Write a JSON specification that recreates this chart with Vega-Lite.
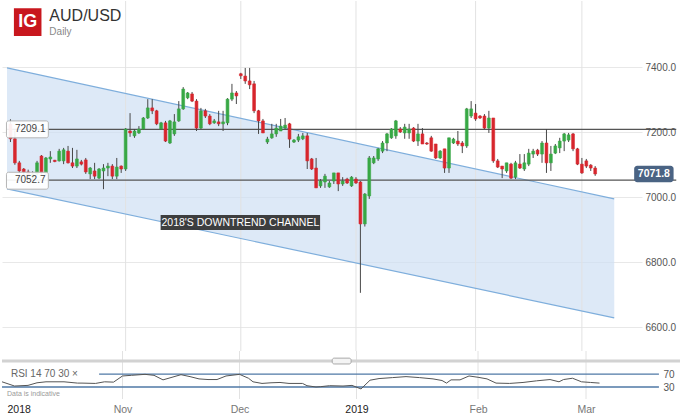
{
  "$schema": "https://vega.github.io/schema/vega-lite/v6.json",
  "padding": 0,
  "spacing": 0,
  "bounds": "flush",
  "background": "white",
  "config": {"view": {"stroke": null}, "font": "Liberation Sans", "axis": {"labelFont": "Liberation Sans"}},
  "datasets": {
    "candles": [
      {"n":0,"o":7225,"h":7240,"l":7170,"c":7180},{"n":1,"o":7180,"h":7205,"l":7100,"c":7106},{"n":2,"o":7106,"h":7112,"l":7075,"c":7081},{"n":3,"o":7087,"h":7090,"l":7062,"c":7078},{"n":4,"o":7078,"h":7085,"l":7050,"c":7062},{"n":5,"o":7062,"h":7080,"l":7048,"c":7072},{"n":6,"o":7072,"h":7112,"l":7068,"c":7106},{"n":7,"o":7127,"h":7130,"l":7070,"c":7075},{"n":8,"o":7075,"h":7124,"l":7068,"c":7121},{"n":9,"o":7118,"h":7142,"l":7106,"c":7124},
      {"n":10,"o":7114,"h":7115,"l":7108,"c":7110},{"n":11,"o":7112,"h":7149,"l":7110,"c":7142},{"n":12,"o":7112,"h":7152,"l":7102,"c":7146},{"n":13,"o":7142,"h":7158,"l":7104,"c":7106},{"n":14,"o":7106,"h":7152,"l":7090,"c":7096},{"n":15,"o":7096,"h":7146,"l":7090,"c":7118},{"n":16,"o":7109,"h":7115,"l":7098,"c":7102},{"n":17,"o":7115,"h":7121,"l":7072,"c":7078},{"n":18,"o":7072,"h":7093,"l":7056,"c":7090},{"n":19,"o":7081,"h":7106,"l":7056,"c":7065},
      {"n":20,"o":7059,"h":7090,"l":7056,"c":7087},{"n":21,"o":7081,"h":7102,"l":7025,"c":7090},{"n":22,"o":7090,"h":7106,"l":7065,"c":7096},{"n":23,"o":7096,"h":7102,"l":7056,"c":7065},{"n":24,"o":7065,"h":7121,"l":7056,"c":7093},{"n":25,"o":7096,"h":7098,"l":7075,"c":7087},{"n":26,"o":7087,"h":7213,"l":7081,"c":7210},{"n":27,"o":7204,"h":7259,"l":7186,"c":7198},{"n":28,"o":7189,"h":7210,"l":7183,"c":7204},{"n":29,"o":7198,"h":7219,"l":7195,"c":7210},
      {"n":30,"o":7210,"h":7247,"l":7207,"c":7244},{"n":31,"o":7244,"h":7302,"l":7241,"c":7275},{"n":32,"o":7275,"h":7302,"l":7256,"c":7266},{"n":33,"o":7266,"h":7269,"l":7222,"c":7226},{"n":34,"o":7210,"h":7232,"l":7207,"c":7229},{"n":35,"o":7229,"h":7235,"l":7170,"c":7173},{"n":36,"o":7167,"h":7238,"l":7164,"c":7235},{"n":37,"o":7195,"h":7256,"l":7189,"c":7232},{"n":38,"o":7235,"h":7296,"l":7232,"c":7272},{"n":39,"o":7272,"h":7339,"l":7269,"c":7333},
      {"n":40,"o":7306,"h":7324,"l":7302,"c":7321},{"n":41,"o":7318,"h":7324,"l":7293,"c":7296},{"n":42,"o":7296,"h":7302,"l":7204,"c":7213},{"n":43,"o":7213,"h":7275,"l":7210,"c":7266},{"n":44,"o":7266,"h":7272,"l":7244,"c":7250},{"n":45,"o":7250,"h":7256,"l":7222,"c":7226},{"n":46,"o":7229,"h":7241,"l":7226,"c":7235},{"n":47,"o":7232,"h":7266,"l":7219,"c":7226},{"n":48,"o":7226,"h":7266,"l":7204,"c":7232},{"n":49,"o":7229,"h":7305,"l":7222,"c":7302},
      {"n":50,"o":7302,"h":7349,"l":7296,"c":7321},{"n":51,"o":7321,"h":7327,"l":7287,"c":7312},{"n":52,"o":7380,"h":7383,"l":7364,"c":7374},{"n":53,"o":7373,"h":7398,"l":7349,"c":7358},{"n":54,"o":7358,"h":7398,"l":7333,"c":7346},{"n":55,"o":7349,"h":7358,"l":7259,"c":7266},{"n":56,"o":7266,"h":7269,"l":7195,"c":7235},{"n":57,"o":7235,"h":7241,"l":7198,"c":7198},{"n":58,"o":7170,"h":7186,"l":7164,"c":7179},{"n":59,"o":7183,"h":7226,"l":7180,"c":7195},
      {"n":60,"o":7195,"h":7226,"l":7186,"c":7213},{"n":61,"o":7204,"h":7241,"l":7204,"c":7219},{"n":62,"o":7213,"h":7244,"l":7210,"c":7222},{"n":63,"o":7226,"h":7229,"l":7152,"c":7179},{"n":64,"o":7170,"h":7179,"l":7167,"c":7176},{"n":65,"o":7176,"h":7195,"l":7170,"c":7186},{"n":66,"o":7180,"h":7198,"l":7176,"c":7189},{"n":67,"o":7189,"h":7198,"l":7087,"c":7112},{"n":68,"o":7118,"h":7121,"l":7084,"c":7087},{"n":69,"o":7090,"h":7121,"l":7029,"c":7029},
      {"n":70,"o":7035,"h":7056,"l":7029,"c":7050},{"n":71,"o":7047,"h":7072,"l":7029,"c":7065},{"n":72,"o":7032,"h":7050,"l":7029,"c":7044},{"n":73,"o":7050,"h":7075,"l":7041,"c":7075},{"n":74,"o":7075,"h":7075,"l":7019,"c":7041},{"n":75,"o":7041,"h":7062,"l":7035,"c":7050},{"n":76,"o":7056,"h":7060,"l":7041,"c":7044},{"n":77,"o":7035,"h":7065,"l":7032,"c":7062},{"n":78,"o":7056,"h":7062,"l":7041,"c":7044},{"n":79,"o":7047,"h":7050,"l":6706,"c":6918},
      {"n":80,"o":6918,"h":7013,"l":6910,"c":7010},{"n":81,"o":7004,"h":7127,"l":6995,"c":7121},{"n":82,"o":7106,"h":7127,"l":7102,"c":7121},{"n":83,"o":7118,"h":7152,"l":7112,"c":7149},{"n":84,"o":7142,"h":7173,"l":7136,"c":7167},{"n":85,"o":7167,"h":7198,"l":7142,"c":7195},{"n":86,"o":7183,"h":7213,"l":7180,"c":7210},{"n":87,"o":7189,"h":7238,"l":7180,"c":7235},{"n":88,"o":7210,"h":7216,"l":7198,"c":7201},{"n":89,"o":7198,"h":7226,"l":7180,"c":7216},
      {"n":90,"o":7198,"h":7226,"l":7180,"c":7210},{"n":91,"o":7213,"h":7216,"l":7170,"c":7173},{"n":92,"o":7173,"h":7226,"l":7158,"c":7195},{"n":93,"o":7195,"h":7213,"l":7164,"c":7164},{"n":94,"o":7167,"h":7170,"l":7161,"c":7164},{"n":95,"o":7183,"h":7189,"l":7140,"c":7142},{"n":96,"o":7164,"h":7164,"l":7118,"c":7121},{"n":97,"o":7121,"h":7145,"l":7118,"c":7142},{"n":98,"o":7149,"h":7149,"l":7075,"c":7090},{"n":99,"o":7090,"h":7183,"l":7075,"c":7183},
      {"n":100,"o":7167,"h":7183,"l":7164,"c":7179},{"n":101,"o":7173,"h":7204,"l":7158,"c":7164},{"n":102,"o":7167,"h":7173,"l":7136,"c":7158},{"n":103,"o":7158,"h":7275,"l":7152,"c":7272},{"n":104,"o":7250,"h":7296,"l":7244,"c":7272},{"n":105,"o":7259,"h":7287,"l":7235,"c":7241},{"n":106,"o":7250,"h":7253,"l":7241,"c":7244},{"n":107,"o":7250,"h":7256,"l":7210,"c":7213},{"n":108,"o":7213,"h":7266,"l":7198,"c":7244},{"n":109,"o":7244,"h":7244,"l":7106,"c":7112},
      {"n":110,"o":7112,"h":7118,"l":7090,"c":7093},{"n":111,"o":7096,"h":7096,"l":7059,"c":7087},{"n":112,"o":7081,"h":7106,"l":7075,"c":7106},{"n":113,"o":7102,"h":7106,"l":7056,"c":7059},{"n":114,"o":7062,"h":7112,"l":7056,"c":7106},{"n":115,"o":7102,"h":7133,"l":7087,"c":7090},{"n":116,"o":7087,"h":7133,"l":7081,"c":7106},{"n":117,"o":7102,"h":7149,"l":7096,"c":7136},{"n":118,"o":7133,"h":7149,"l":7121,"c":7142},{"n":119,"o":7145,"h":7149,"l":7127,"c":7133},
      {"n":120,"o":7133,"h":7173,"l":7106,"c":7167},{"n":121,"o":7167,"h":7210,"l":7075,"c":7106},{"n":122,"o":7106,"h":7158,"l":7081,"c":7133},{"n":123,"o":7136,"h":7164,"l":7133,"c":7158},{"n":124,"o":7152,"h":7183,"l":7136,"c":7173},{"n":125,"o":7173,"h":7198,"l":7142,"c":7195},{"n":126,"o":7176,"h":7198,"l":7170,"c":7192},{"n":127,"o":7195,"h":7198,"l":7142,"c":7149},{"n":128,"o":7149,"h":7152,"l":7099,"c":7102},{"n":129,"o":7102,"h":7121,"l":7072,"c":7075},
      {"n":130,"o":7112,"h":7118,"l":7090,"c":7096},{"n":131,"o":7099,"h":7102,"l":7081,"c":7090},{"n":132,"o":7090,"h":7096,"l":7066,"c":7071.8}
    ],
    "rsi": [
      {"n":-0.78,"rsi":46},{"n":2,"rsi":33},{"n":5,"rsi":35},{"n":7,"rsi":43},{"n":9,"rsi":46},{"n":13,"rsi":46},{"n":16,"rsi":42},{"n":17,"rsi":42},{"n":20,"rsi":41},{"n":22,"rsi":46},{"n":24,"rsi":45},{"n":26,"rsi":64},{"n":28,"rsi":66},{"n":31,"rsi":69},{"n":33,"rsi":66},{"n":35,"rsi":52},{"n":37,"rsi":60},{"n":39,"rsi":68},{"n":41,"rsi":62},{"n":43,"rsi":55},{"n":45,"rsi":53},{"n":47,"rsi":53},{"n":49,"rsi":64},{"n":52,"rsi":69},{"n":54,"rsi":57},{"n":55,"rsi":46},{"n":57,"rsi":41},{"n":59,"rsi":43},{"n":61,"rsi":44},{"n":63,"rsi":41},{"n":66,"rsi":41},{"n":67,"rsi":34},{"n":69,"rsi":30},{"n":70,"rsi":31},{"n":72,"rsi":34},{"n":75,"rsi":33},{"n":77,"rsi":35},{"n":79,"rsi":24},{"n":81,"rsi":51},{"n":83,"rsi":56},{"n":86,"rsi":59},{"n":89,"rsi":62},{"n":92,"rsi":59},{"n":95,"rsi":55},{"n":97,"rsi":50},{"n":98,"rsi":42},{"n":99,"rsi":52},{"n":101,"rsi":52},{"n":103,"rsi":64},{"n":105,"rsi":60},{"n":107,"rsi":55},{"n":109,"rsi":42},{"n":112,"rsi":41},{"n":115,"rsi":44},{"n":118,"rsi":49},{"n":121,"rsi":53},{"n":123,"rsi":46},{"n":124,"rsi":53},{"n":126,"rsi":57},{"n":128,"rsi":46},{"n":130,"rsi":44},{"n":132,"rsi":42}
    ],
    "channel": [{"n":-0.78,"upper":7398,"lower":7026},{"n":136.3,"upper":6995,"lower":6629}],
    "months": [{"n":26},{"n":52},{"n":78},{"n":105},{"n":129}],
    "levels": [{"price":7209.1,"label":"7209.1"},{"price":7052.7,"label":"7052.7"}],
    "last": [{"price":7071.8,"label":"7071.8"}],
    "notes": [{"text":"2018'S DOWNTREND CHANNEL"}],
    "titles": [{"pair":"AUD/USD","period":"Daily","logo":"IG"}],
    "rsiInfo": [{"label":"RSI  14  70  30  ×","note":"Data is indicative"}]
  },
  "vconcat": [
    {
      "width": 640,
      "height": 350,
      "layer": [
        {
          "data": {"name": "channel"},
          "mark": {"type": "area", "color": "#cfe0f3", "opacity": 0.7},
          "encoding": {
            "x": {"field": "n", "type": "quantitative", "scale": {"domain": [-0.78, 141.44], "nice": false, "zero": false}, "axis": null},
            "y": {"field": "upper", "type": "quantitative", "scale": {"domain": [6527, 7604], "nice": false, "zero": false},
                  "axis": {"orient": "right", "values": [6600, 6800, 7000, 7200, 7400], "format": ".1f", "title": null, "domain": false, "ticks": false, "labelPadding": 3, "labelFontSize": 10, "labelColor": "#555", "gridColor": "#e8e8e8", "grid": true}},
            "y2": {"field": "lower"}
          }
        },
        {
          "data": {"name": "months"},
          "mark": {"type": "rule", "color": "#e2e2e2", "strokeWidth": 1},
          "encoding": {"x": {"field": "n", "type": "quantitative", "axis": null}}
        },
        {
          "data": {"name": "channel"},
          "mark": {"type": "line", "color": "#7eaedc", "strokeWidth": 1.2},
          "encoding": {"x": {"field": "n", "type": "quantitative", "axis": null}, "y": {"field": "upper", "type": "quantitative"}}
        },
        {
          "data": {"name": "channel"},
          "mark": {"type": "line", "color": "#7eaedc", "strokeWidth": 1.2},
          "encoding": {"x": {"field": "n", "type": "quantitative", "axis": null}, "y": {"field": "lower", "type": "quantitative"}}
        },
        {
          "data": {"name": "levels"},
          "mark": {"type": "rule", "color": "#555", "strokeWidth": 1.4, "clip": false},
          "encoding": {
            "x": {"datum": -0.78, "type": "quantitative", "axis": null},
            "x2": {"datum": 150.3},
            "y": {"field": "price", "type": "quantitative"}
          }
        },
        {
          "data": {"name": "candles"},
          "mark": {"type": "rule", "color": "#474747", "strokeWidth": 1},
          "encoding": {
            "x": {"field": "n", "type": "quantitative", "axis": null},
            "y": {"field": "l", "type": "quantitative"},
            "y2": {"field": "h"}
          }
        },
        {
          "data": {"name": "candles"},
          "mark": {"type": "bar", "size": 2.8, "strokeWidth": 0.6},
          "encoding": {
            "x": {"field": "n", "type": "quantitative", "axis": null},
            "y": {"field": "o", "type": "quantitative"},
            "y2": {"field": "c"},
            "fill": {"condition": {"test": "datum.c >= datum.o", "value": "#38a845"}, "value": "#d7262d"},
            "stroke": {"condition": {"test": "datum.c >= datum.o", "value": "#38a845"}, "value": "#d7262d"}
          }
        },
        {
          "data": {"name": "levels"},
          "transform": [{"filter": "datum.price > 7100"}],
          "mark": {"type": "rect", "fill": "white", "fillOpacity": 0.92, "stroke": "#b5b5b5", "strokeWidth": 1, "cornerRadius": 2},
          "encoding": {
            "x": {"datum": -0.9, "type": "quantitative", "axis": null},
            "x2": {"datum": 8.55},
            "y": {"datum": 7235, "type": "quantitative"},
            "y2": {"datum": 7183}
          }
        },
        {
          "data": {"name": "levels"},
          "transform": [{"filter": "datum.price < 7100"}],
          "mark": {"type": "rect", "fill": "white", "fillOpacity": 0.92, "stroke": "#b5b5b5", "strokeWidth": 1, "cornerRadius": 2},
          "encoding": {
            "x": {"datum": -0.9, "type": "quantitative", "axis": null},
            "x2": {"datum": 8.55},
            "y": {"datum": 7077, "type": "quantitative"},
            "y2": {"datum": 7025}
          }
        },
        {
          "data": {"name": "levels"},
          "mark": {"type": "text", "align": "left", "baseline": "middle", "fontSize": 10, "color": "#444"},
          "encoding": {
            "x": {"datum": 1.0, "type": "quantitative", "axis": null},
            "y": {"field": "price", "type": "quantitative"},
            "text": {"field": "label"}
          }
        },
        {
          "data": {"name": "last"},
          "mark": {"type": "rect", "fill": "#4a6383", "cornerRadius": 3, "clip": false},
          "encoding": {
            "x": {"datum": 140.8, "type": "quantitative", "axis": null},
            "x2": {"datum": 149.7},
            "y": {"datum": 7097, "type": "quantitative"},
            "y2": {"datum": 7046}
          }
        },
        {
          "data": {"name": "last"},
          "mark": {"type": "text", "align": "center", "baseline": "middle", "fontSize": 10.5, "fontWeight": "bold", "color": "white", "clip": false},
          "encoding": {
            "x": {"datum": 145.25, "type": "quantitative", "axis": null},
            "y": {"field": "price", "type": "quantitative"},
            "text": {"field": "label"}
          }
        },
        {
          "data": {"name": "notes"},
          "mark": {"type": "rect", "fill": "#2f2f2f", "opacity": 0.92},
          "encoding": {
            "x": {"datum": 33.9, "type": "quantitative", "axis": null},
            "x2": {"datum": 69.9},
            "y": {"datum": 6945.5, "type": "quantitative"},
            "y2": {"datum": 6899.4}
          }
        },
        {
          "data": {"name": "notes"},
          "mark": {"type": "text", "align": "center", "baseline": "middle", "fontSize": 10.5, "color": "white"},
          "encoding": {
            "x": {"datum": 51.9, "type": "quantitative", "axis": null},
            "y": {"datum": 6922, "type": "quantitative"},
            "text": {"field": "text"}
          }
        },
        {
          "data": {"name": "titles"},
          "mark": {"type": "rect", "fill": "#c8171e"},
          "encoding": {
            "x": {"datum": 0.78, "type": "quantitative", "axis": null},
            "x2": {"datum": 7.0},
            "y": {"datum": 7582, "type": "quantitative"},
            "y2": {"datum": 7496}
          }
        },
        {
          "data": {"name": "titles"},
          "mark": {"type": "text", "align": "center", "baseline": "middle", "fontSize": 18, "fontWeight": "bold", "color": "white"},
          "encoding": {
            "x": {"datum": 3.89, "type": "quantitative", "axis": null},
            "y": {"datum": 7538, "type": "quantitative"},
            "text": {"field": "logo"}
          }
        },
        {
          "data": {"name": "titles"},
          "mark": {"type": "text", "align": "left", "baseline": "alphabetic", "fontSize": 16, "color": "#333"},
          "encoding": {
            "x": {"datum": 8.78, "type": "quantitative", "axis": null},
            "y": {"datum": 7542.5, "type": "quantitative"},
            "text": {"field": "pair"}
          }
        },
        {
          "data": {"name": "titles"},
          "mark": {"type": "text", "align": "left", "baseline": "alphabetic", "fontSize": 10, "color": "#888"},
          "encoding": {
            "x": {"datum": 8.78, "type": "quantitative", "axis": null},
            "y": {"datum": 7499.4, "type": "quantitative"},
            "text": {"field": "period"}
          }
        }
      ]
    },
    {
      "width": 640,
      "height": 48,
      "layer": [
        {
          "data": {"name": "months"},
          "mark": {"type": "rule", "color": "#e2e2e2", "strokeWidth": 1},
          "encoding": {"x": {"field": "n", "type": "quantitative", "scale": {"domain": [-0.78, 141.44], "nice": false, "zero": false}}}
        },
        {
          "data": {"name": "rsiInfo"},
          "mark": {"type": "rule", "color": "#d2d2d2", "strokeWidth": 3, "clip": false},
          "encoding": {
            "x": {"datum": -0.78, "type": "quantitative"},
            "x2": {"datum": 150.3},
            "y": {"datum": 110, "type": "quantitative"}
          }
        },
        {
          "data": {"name": "rsiInfo"},
          "mark": {"type": "rect", "fill": "#f4f4f4", "stroke": "#a8a8a8", "strokeWidth": 1, "cornerRadius": 2},
          "encoding": {
            "x": {"datum": 72.6, "type": "quantitative"},
            "x2": {"datum": 76.8},
            "y": {"datum": 119, "type": "quantitative"},
            "y2": {"datum": 101}
          }
        },
        {
          "data": {"name": "rsiInfo"},
          "mark": {"type": "rule", "color": "#4f78a6", "strokeWidth": 1.3, "clip": false},
          "encoding": {
            "x": {"datum": 20.8, "type": "quantitative"},
            "x2": {"datum": 145.2},
            "y": {"datum": 70, "type": "quantitative"}
          }
        },
        {
          "data": {"name": "rsiInfo"},
          "mark": {"type": "rule", "color": "#4f78a6", "strokeWidth": 1.3, "clip": false},
          "encoding": {
            "x": {"datum": -0.78, "type": "quantitative"},
            "x2": {"datum": 145.2},
            "y": {"datum": 30, "type": "quantitative"}
          }
        },
        {
          "data": {"name": "rsi"},
          "mark": {"type": "line", "color": "#555", "strokeWidth": 1},
          "encoding": {
            "x": {"field": "n", "type": "quantitative",
                  "axis": {"orient": "bottom", "values": [0.33, 26, 52, 78, 105, 129], "labelExpr": "datum.value < 1 ? '2018' : datum.value == 26 ? 'Nov' : datum.value == 52 ? 'Dec' : datum.value == 78 ? '2019' : datum.value == 105 ? 'Feb' : 'Mar'", "title": null, "domain": false, "ticks": false, "grid": false, "labelPadding": 5, "labelFontSize": 10.5,
                           "labelAlign": {"condition": {"test": "datum.value < 1", "value": "left"}, "value": "center"},
                           "labelColor": {"condition": {"test": "datum.value < 1 || datum.value == 78", "value": "#222"}, "value": "#777"}}},
            "y": {"field": "rsi", "type": "quantitative", "scale": {"domain": [-7, 141], "nice": false, "zero": false},
                  "axis": {"orient": "right", "values": [30, 70], "title": null, "domain": false, "ticks": false, "grid": false, "labelPadding": 21, "labelFontSize": 10, "labelColor": "#555"}}
          }
        },
        {
          "data": {"name": "rsiInfo"},
          "mark": {"type": "text", "align": "left", "baseline": "middle", "fontSize": 10, "color": "#666"},
          "encoding": {
            "x": {"datum": 1.2, "type": "quantitative"},
            "y": {"datum": 69, "type": "quantitative"},
            "text": {"field": "label"}
          }
        },
        {
          "data": {"name": "rsiInfo"},
          "mark": {"type": "text", "align": "left", "baseline": "middle", "fontSize": 7, "color": "#9a9a9a"},
          "encoding": {
            "x": {"datum": 0.33, "type": "quantitative"},
            "y": {"datum": 8, "type": "quantitative"},
            "text": {"field": "note"}
          }
        }
      ]
    }
  ],
  "resolve": {"scale": {"x": "independent", "y": "independent"}}
}
